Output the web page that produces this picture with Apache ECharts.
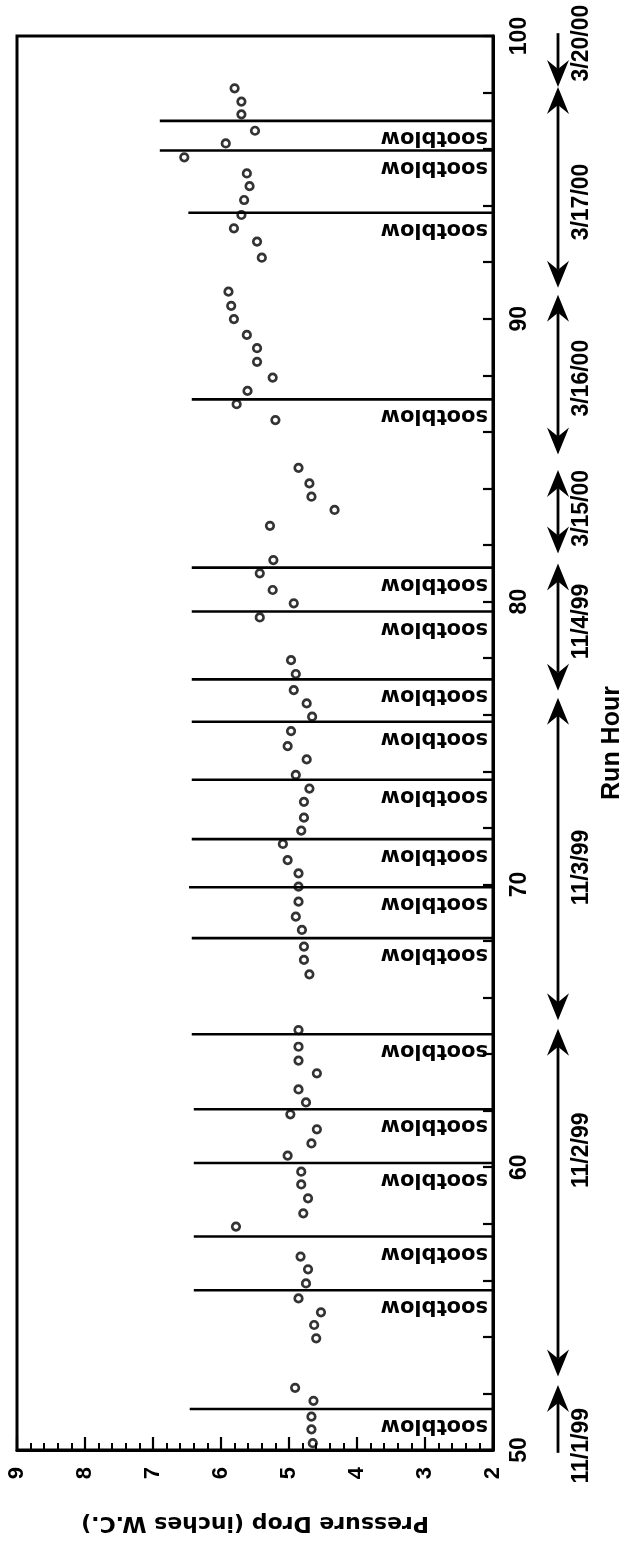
<!DOCTYPE html>
<html>
<head>
<meta charset="utf-8">
<script src="https://cdn.jsdelivr.net/npm/echarts@6/dist/echarts.min.js"></script>
<style>html,body{margin:0;padding:0;background:#fff}#c{width:633px;height:1549px}</style>
</head>
<body>
<div id="c"></div>
<script>
// ---- data ----
const runHours = [50.24, 50.73, 51.18, 51.74, 52.20, 53.95, 54.42, 54.87, 55.36, 55.89, 56.39, 56.84,
  57.90, 58.37, 58.90, 59.39, 59.84, 60.41, 60.84, 61.34, 61.87, 62.29, 62.75, 63.32, 63.77, 64.26, 64.85,
  66.82, 67.33, 67.80, 68.39, 68.86, 69.39, 69.92, 70.39, 70.86, 71.43, 71.90, 72.36, 72.92, 73.39, 73.87,
  74.42, 74.89, 75.42, 75.93, 76.40, 76.87, 77.44, 77.93, 79.44, 79.94, 80.41, 81.00, 81.47, 82.68, 83.24,
  83.71, 84.18, 84.73, 86.42, 86.98, 87.45, 87.92, 88.48, 88.96, 89.43, 89.99, 90.46, 90.96, 92.16, 92.73,
  93.20, 93.67, 94.20, 94.69, 95.14, 95.71, 96.20, 96.65, 97.23, 97.68, 98.15];
const pressureDrop = [4.65, 4.67, 4.67, 4.64, 4.91, 4.60, 4.63, 4.53, 4.86, 4.75, 4.72, 4.83,
  5.78, 4.79, 4.72, 4.82, 4.82, 5.02, 4.67, 4.59, 4.98, 4.75, 4.86, 4.59, 4.86, 4.86, 4.86,
  4.70, 4.78, 4.78, 4.81, 4.90, 4.86, 4.86, 4.86, 5.02, 5.09, 4.82, 4.78, 4.78, 4.70, 4.90,
  4.74, 5.02, 4.97, 4.66, 4.74, 4.93, 4.90, 4.97, 5.43, 4.93, 5.24, 5.43, 5.23, 5.28, 4.33,
  4.67, 4.70, 4.86, 5.20, 5.77, 5.61, 5.24, 5.47, 5.47, 5.62, 5.81, 5.85, 5.89, 5.40, 5.47,
  5.81, 5.70, 5.66, 5.58, 5.62, 6.54, 5.93, 5.50, 5.70, 5.70, 5.80];

const sootblowHours = [51.45, 55.65, 57.55, 60.15, 62.05, 64.7, 68.1, 69.9, 71.6, 73.7, 75.75, 77.25,
  79.65, 81.2, 87.15, 93.75, 95.95, 97.0];
const sootblowFrom = [6.46, 6.4, 6.4, 6.4, 6.4, 6.43, 6.43, 6.47, 6.43, 6.43, 6.43, 6.43,
  6.43, 6.43, 6.43, 6.48, 6.9, 6.9];
const sootblowText = 'sootblow';

const dateNames = ['11/1/99', '11/2/99', '11/3/99', '11/4/99', '3/15/00', '3/16/00', '3/17/00', '3/20/00'];
const dateFrom = [49.9, 52.6, 65.2, 76.85, 81.7, 85.2, 91.1, 98.2];
const dateTo = [52.3, 64.9, 76.6, 81.35, 84.65, 90.85, 98.2, 100.1];
const dateArrowLow = [0, 1, 1, 1, 1, 1, 1, 1];
const dateArrowHigh = [1, 1, 1, 1, 1, 1, 1, 0];
const dateLabelAt = [50.15, 60.6, 70.6, 79.3, 83.3, 87.9, 94.13, 99.75];

const pressureMin = 2, pressureMax = 9, pressureStep = 1;
const hourMin = 50, hourMax = 100, hourStep = 10;
const xTitle = 'Pressure Drop (inches W.C.)';
const yTitle = 'Run Hour';

// ---- chart ----
const chart = echarts.init(document.getElementById('c'), null, {renderer: 'canvas', width: 633, height: 1549});
const FONT = 'Liberation Sans, Arial, Helvetica, sans-serif';
const WIDE = 'DejaVu Sans, Verdana, sans-serif';

const points = runHours.map((h, i) => [pressureDrop[i], h]);
const soot = sootblowHours.map((h, i) => [sootblowFrom[i], h]);
const dates = dateNames.map((n, i) => [0, dateFrom[i], dateTo[i], dateArrowLow[i], dateArrowHigh[i], dateLabelAt[i]]);

const AL = 27, AW = 11, AN = 18; // arrowhead length, half width, notch depth

const option = {
  animation: false,
  backgroundColor: '#fff',
  grid: [
    {left: 17, top: 36, width: 486, height: 1414, show: true, borderColor: '#000', borderWidth: 3, backgroundColor: 'transparent'},
    {left: 538, top: 36, width: 40, height: 1414, show: false}
  ],
  xAxis: [
    {
      gridIndex: 0, type: 'value', min: pressureMin, max: pressureMax, interval: pressureStep,
      inverse: true, position: 'bottom',
      axisLine: {show: true, onZero: false, lineStyle: {color: '#000', width: 3}},
      axisTick: {show: true, inside: true, length: 13, lineStyle: {color: '#000', width: 2.2}},
      minorTick: {show: true, splitNumber: 5, length: 7, lineStyle: {color: '#000', width: 2}},
      splitLine: {show: false},
      axisLabel: {rotate: 90, margin: 17, fontSize: 22, fontWeight: 'bold', color: '#000', fontFamily: FONT},
      name: xTitle, nameLocation: 'middle', nameGap: 62, nameRotate: 180,
      nameTextStyle: {fontSize: 22, fontWeight: 'bold', color: '#000', fontFamily: WIDE}
    },
    {gridIndex: 1, type: 'value', min: -1, max: 1, show: false}
  ],
  yAxis: [
    {
      gridIndex: 0, type: 'value', min: hourMin, max: hourMax, interval: hourStep, position: 'right',
      axisLine: {show: true, onZero: false, lineStyle: {color: '#000', width: 3}},
      axisTick: {show: true, inside: true, length: 10, lineStyle: {color: '#000', width: 2.2}},
      minorTick: {show: true, splitNumber: 5, length: 10, lineStyle: {color: '#000', width: 2.2}},
      splitLine: {show: false},
      axisLabel: {rotate: 90, margin: 15, fontSize: 23, fontWeight: 'bold', color: '#000', fontFamily: FONT},
      name: yTitle, nameLocation: 'middle', nameGap: 107, nameRotate: 90,
      nameTextStyle: {fontSize: 25, fontWeight: 'bold', color: '#000', fontFamily: FONT}
    },
    {gridIndex: 1, type: 'value', min: hourMin, max: hourMax, show: false}
  ],
  series: [
    {
      type: 'custom', name: 'sootblow', xAxisIndex: 0, yAxisIndex: 0, clip: false, silent: true, z: 2,
      data: soot,
      renderItem: function (params, api) {
        const s = api.coord([api.value(0), api.value(1)]);
        const e = api.coord([pressureMin, api.value(1)]);
        return {
          type: 'group',
          children: [
            {type: 'line', shape: {x1: s[0], y1: s[1], x2: e[0], y2: e[1]}, style: {stroke: '#000', lineWidth: 2.6}},
            {type: 'text', x: e[0] - 5, y: e[1] + 6, rotation: Math.PI,
              style: {text: sootblowText, fill: '#000', fontSize: 21, fontWeight: 'bold', fontFamily: WIDE,
                align: 'left', verticalAlign: 'bottom'}}
          ]
        };
      }
    },
    {
      type: 'scatter', name: 'Pressure Drop', xAxisIndex: 0, yAxisIndex: 0, z: 3,
      data: points, symbol: 'circle', symbolSize: 7.5,
      itemStyle: {color: 'rgba(255,255,255,0)', borderColor: '#000', borderWidth: 2.7}
    },
    {
      type: 'custom', name: 'dates', xAxisIndex: 1, yAxisIndex: 1, clip: false, silent: true, z: 2,
      data: dates,
      renderItem: function (params, api) {
        const lo = api.coord([api.value(0), api.value(1)]);
        const hi = api.coord([api.value(0), api.value(2)]);
        const lab = api.coord([api.value(0), api.value(5)]);
        const aLow = api.value(3), aHigh = api.value(4);
        const x = lo[0];
        const children = [
          {type: 'line', shape: {x1: x, y1: lo[1] - (aLow ? AN : 0), x2: x, y2: hi[1] + (aHigh ? AN : 0)},
            style: {stroke: '#000', lineWidth: 2.8}}
        ];
        if (aHigh) {
          children.push({type: 'polygon', shape: {points: [[x, hi[1]], [x + AW, hi[1] + AL], [x, hi[1] + AN], [x - AW, hi[1] + AL]]},
            style: {fill: '#000'}});
        }
        if (aLow) {
          children.push({type: 'polygon', shape: {points: [[x, lo[1]], [x + AW, lo[1] - AL], [x, lo[1] - AN], [x - AW, lo[1] - AL]]},
            style: {fill: '#000'}});
        }
        children.push({type: 'text', x: x + 24, y: lab[1], rotation: Math.PI / 2,
          style: {text: dateNames[params.dataIndex], fill: '#000', fontSize: 23, fontWeight: 'bold', fontFamily: FONT,
            align: 'center', verticalAlign: 'middle'}});
        return {type: 'group', children: children};
      }
    }
  ]
};
chart.setOption(option);
</script>
</body>
</html>
